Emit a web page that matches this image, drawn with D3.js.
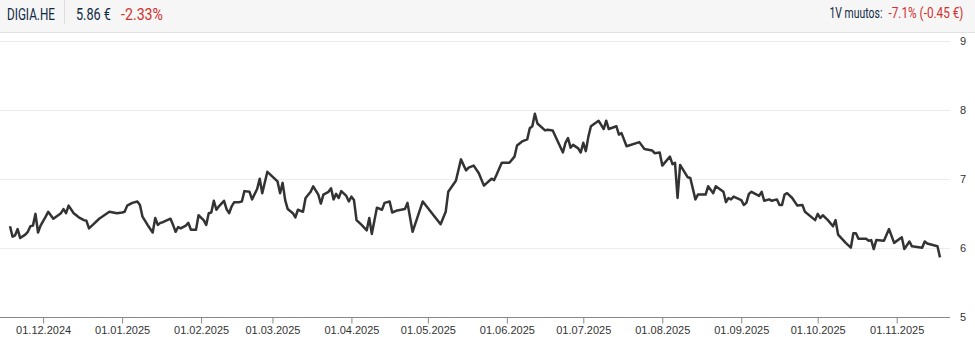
<!DOCTYPE html>
<html>
<head>
<meta charset="utf-8">
<script src="https://cdn.jsdelivr.net/npm/d3@7"></script>
<style>
  body { margin: 0; background: #fff; }
  svg { display: block; }
</style>
</head>
<body>
<div id="chart"></div>
<script>
// header texts
const ticker = "DIGIA.HE";
const lastPrice = "5.86 €";
const dayChange = "-2.33%";
const yearLabel = "1V muutos:";
const yearChange = "-7.1% (-0.45 €)";

// price series
const dates = [
  "2024-11-18","2024-11-19","2024-11-20","2024-11-21","2024-11-22","2024-11-24","2024-11-25","2024-11-26","2024-11-27","2024-11-28",
  "2024-11-29","2024-11-30","2024-12-02","2024-12-03","2024-12-05","2024-12-08","2024-12-09","2024-12-10","2024-12-11","2024-12-13",
  "2024-12-15","2024-12-17","2024-12-18","2024-12-19","2024-12-21","2024-12-23","2024-12-25","2024-12-27","2024-12-30","2025-01-01",
  "2025-01-02","2025-01-03","2025-01-05","2025-01-07","2025-01-08","2025-01-09","2025-01-11","2025-01-13","2025-01-14","2025-01-15",
  "2025-01-16","2025-01-17","2025-01-20","2025-01-21","2025-01-22","2025-01-23","2025-01-24","2025-01-26","2025-01-27","2025-01-28",
  "2025-01-30","2025-01-31","2025-02-02","2025-02-03","2025-02-04","2025-02-05","2025-02-06","2025-02-07","2025-02-08","2025-02-10",
  "2025-02-11","2025-02-12","2025-02-13","2025-02-14","2025-02-16","2025-02-17","2025-02-18","2025-02-20","2025-02-21","2025-02-23",
  "2025-02-24","2025-02-25","2025-02-27","2025-03-01","2025-03-03","2025-03-04","2025-03-05","2025-03-06","2025-03-07","2025-03-09",
  "2025-03-10","2025-03-11","2025-03-13","2025-03-14","2025-03-16","2025-03-17","2025-03-19","2025-03-20","2025-03-21","2025-03-23",
  "2025-03-24","2025-03-25","2025-03-26","2025-03-27","2025-03-28","2025-03-30","2025-03-31","2025-04-01","2025-04-02","2025-04-03",
  "2025-04-05","2025-04-07","2025-04-08","2025-04-09","2025-04-11","2025-04-13","2025-04-14","2025-04-16","2025-04-17","2025-04-19",
  "2025-04-22","2025-04-23","2025-04-25","2025-04-29","2025-05-06","2025-05-08","2025-05-09","2025-05-12","2025-05-14","2025-05-16",
  "2025-05-17","2025-05-19","2025-05-21","2025-05-23","2025-05-26","2025-05-27","2025-05-28","2025-05-30","2025-06-02","2025-06-04",
  "2025-06-05","2025-06-07","2025-06-09","2025-06-10","2025-06-11","2025-06-12","2025-06-13","2025-06-16","2025-06-17","2025-06-19",
  "2025-06-21","2025-06-23","2025-06-24","2025-06-25","2025-06-26","2025-06-27","2025-06-29","2025-06-30","2025-07-01","2025-07-02",
  "2025-07-03","2025-07-04","2025-07-07","2025-07-08","2025-07-09","2025-07-10","2025-07-11","2025-07-14","2025-07-15","2025-07-16",
  "2025-07-18","2025-07-23","2025-07-25","2025-07-28","2025-07-29","2025-07-31","2025-08-01","2025-08-04","2025-08-05","2025-08-06",
  "2025-08-07","2025-08-08","2025-08-11","2025-08-12","2025-08-14","2025-08-15","2025-08-18","2025-08-19","2025-08-21","2025-08-22",
  "2025-08-25","2025-08-26","2025-08-27","2025-08-28","2025-08-29","2025-09-01","2025-09-02","2025-09-03","2025-09-04","2025-09-05",
  "2025-09-08","2025-09-09","2025-09-10","2025-09-12","2025-09-13","2025-09-15","2025-09-16","2025-09-17","2025-09-18","2025-09-19",
  "2025-09-21","2025-09-23","2025-09-25","2025-09-26","2025-09-30","2025-10-01","2025-10-02","2025-10-03","2025-10-05","2025-10-07",
  "2025-10-08","2025-10-09","2025-10-12","2025-10-14","2025-10-15","2025-10-16","2025-10-17","2025-10-20","2025-10-21","2025-10-22",
  "2025-10-23","2025-10-24","2025-10-27","2025-10-29","2025-10-31","2025-11-03","2025-11-04","2025-11-06","2025-11-07","2025-11-11",
  "2025-11-12","2025-11-13","2025-11-17","2025-11-18"
];
const prices = [
  6.31,6.16,6.18,6.27,6.14,6.19,6.23,6.31,6.32,6.49,
  6.22,6.32,6.45,6.52,6.42,6.50,6.56,6.50,6.61,6.50,
  6.44,6.40,6.39,6.28,6.35,6.42,6.47,6.52,6.50,6.51,
  6.52,6.61,6.65,6.67,6.62,6.45,6.33,6.22,6.43,6.33,
  6.36,6.37,6.42,6.33,6.23,6.30,6.28,6.32,6.36,6.26,
  6.26,6.47,6.40,6.33,6.50,6.51,6.68,6.55,6.60,6.68,
  6.56,6.50,6.60,6.66,6.66,6.67,6.82,6.81,6.70,6.85,
  7.00,6.79,7.10,7.03,6.96,6.79,6.94,6.69,6.56,6.50,
  6.44,6.55,6.52,6.72,6.81,6.89,6.77,6.64,6.77,6.81,
  6.86,6.70,6.78,6.72,6.82,6.75,6.67,6.74,6.69,6.40,
  6.33,6.25,6.43,6.20,6.58,6.55,6.65,6.67,6.51,6.54,
  6.56,6.65,6.23,6.67,6.34,6.52,6.81,6.97,7.28,7.12,
  7.16,7.19,7.08,6.90,7.00,6.98,7.06,7.23,7.23,7.32,
  7.48,7.54,7.57,7.73,7.76,7.94,7.80,7.70,7.71,7.70,
  7.54,7.38,7.52,7.59,7.45,7.49,7.44,7.38,7.52,7.40,
  7.61,7.76,7.84,7.78,7.72,7.84,7.72,7.76,7.64,7.66,
  7.47,7.53,7.43,7.41,7.37,7.38,7.19,7.32,7.21,7.23,
  6.72,7.20,7.02,7.01,6.70,6.77,6.77,6.89,6.79,6.89,
  6.81,6.66,6.72,6.70,6.74,6.69,6.62,6.65,6.78,6.81,
  6.75,6.81,6.68,6.70,6.68,6.70,6.62,6.62,6.77,6.79,
  6.72,6.61,6.62,6.52,6.40,6.49,6.43,6.47,6.40,6.31,
  6.40,6.19,6.07,6.00,6.21,6.21,6.13,6.13,6.10,6.11,
  5.98,6.11,6.10,6.27,6.07,6.15,5.98,6.09,6.02,6.00,
  6.09,6.06,6.02,5.86
];
const yTicks = [5, 6, 7, 8, 9];
const startDate = "2024-11-18";
const endDate = "2025-11-18";

const width = 975, height = 337;
const parseDate = d3.timeParse("%Y-%m-%d");
const data = dates.map((d, i) => ({ date: parseDate(d), value: prices[i] }));

const svg = d3.select("#chart").append("svg")
  .attr("width", width)
  .attr("height", height);

// header bar
svg.append("rect")
  .attr("x", 0).attr("y", 0)
  .attr("width", width).attr("height", 32)
  .attr("fill", "#f6f6f6");
svg.append("line")
  .attr("x1", 0).attr("x2", width)
  .attr("y1", 32.5).attr("y2", 32.5)
  .attr("stroke", "#e2e2e2");
svg.append("line")
  .attr("x1", 64.5).attr("x2", 64.5)
  .attr("y1", 0).attr("y2", 24)
  .attr("stroke", "#dddddd");

// the original uses a condensed face: squeeze each text horizontally to the same width
const headFont = "'Roboto', sans-serif";
function headText(str, x0, y0, size, w, color) {
  const t = svg.append("text")
    .attr("font-family", headFont).attr("font-size", size)
    .attr("fill", color)
    .text(str);
  const natural = t.node().getComputedTextLength();
  t.attr("transform", "translate(" + x0 + "," + y0 + ") scale(" + (w / natural) + ",1)");
}
headText(ticker, 7, 19.5, 16, 48, "#0f2a44");
headText(lastPrice, 76, 19.5, 16, 35, "#0f2a44");
headText(dayChange, 121, 19.5, 16, 42, "#d0312d");
headText(yearLabel, 829.5, 17.5, 14, 53, "#0f2a44");
headText(yearChange, 888.5, 17.5, 14, 75, "#d0312d");

// scales
const x = d3.scaleTime()
  .domain([parseDate(startDate), parseDate(endDate)])
  .range([10, 940]);
const y = d3.scaleLinear()
  .domain([5, 9])
  .range([316.7, 40.7]);

const plotRight = 950;

// grid lines
svg.append("g")
  .selectAll("line")
  .data(yTicks.filter(t => t > 5))
  .join("line")
  .attr("x1", 0).attr("x2", plotRight)
  .attr("y1", d => Math.round(y(d)) + 0.5)
  .attr("y2", d => Math.round(y(d)) + 0.5)
  .attr("stroke", "#ececec");

// y labels on the right
svg.append("g")
  .selectAll("text")
  .data(yTicks)
  .join("text")
  .attr("x", 963)
  .attr("y", d => y(d) + 4)
  .attr("text-anchor", "middle")
  .attr("font-family", "Arial, 'Liberation Sans', sans-serif")
  .attr("font-size", 11)
  .attr("fill", "#333")
  .text(d => d);

// x axis
const xAxis = svg.append("g")
  .attr("transform", "translate(0," + (Math.round(y(5)) + 0.5) + ")")
  .call(d3.axisBottom(x)
    .ticks(d3.timeMonth.every(1))
    .tickFormat(d3.timeFormat("%d.%m.%Y"))
    .tickSize(6)
    .tickSizeOuter(0));
xAxis.select(".domain").remove();
xAxis.append("line")
  .attr("x1", 0).attr("x2", plotRight)
  .attr("stroke", "#888");
xAxis.selectAll(".tick line").attr("stroke", "#888").attr("y1", 0).attr("y2", 6);
xAxis.selectAll(".tick text")
  .attr("y", 9)
  .attr("font-family", "Arial, 'Liberation Sans', sans-serif")
  .attr("font-size", 11)
  .attr("fill", "#333");

// price line
const line = d3.line()
  .x(d => x(d.date))
  .y(d => y(d.value));

svg.append("path")
  .datum(data)
  .attr("fill", "none")
  .attr("stroke", "#333333")
  .attr("stroke-width", 2.5)
  .attr("stroke-linejoin", "round")
  .attr("d", line);
</script>
</body>
</html>
